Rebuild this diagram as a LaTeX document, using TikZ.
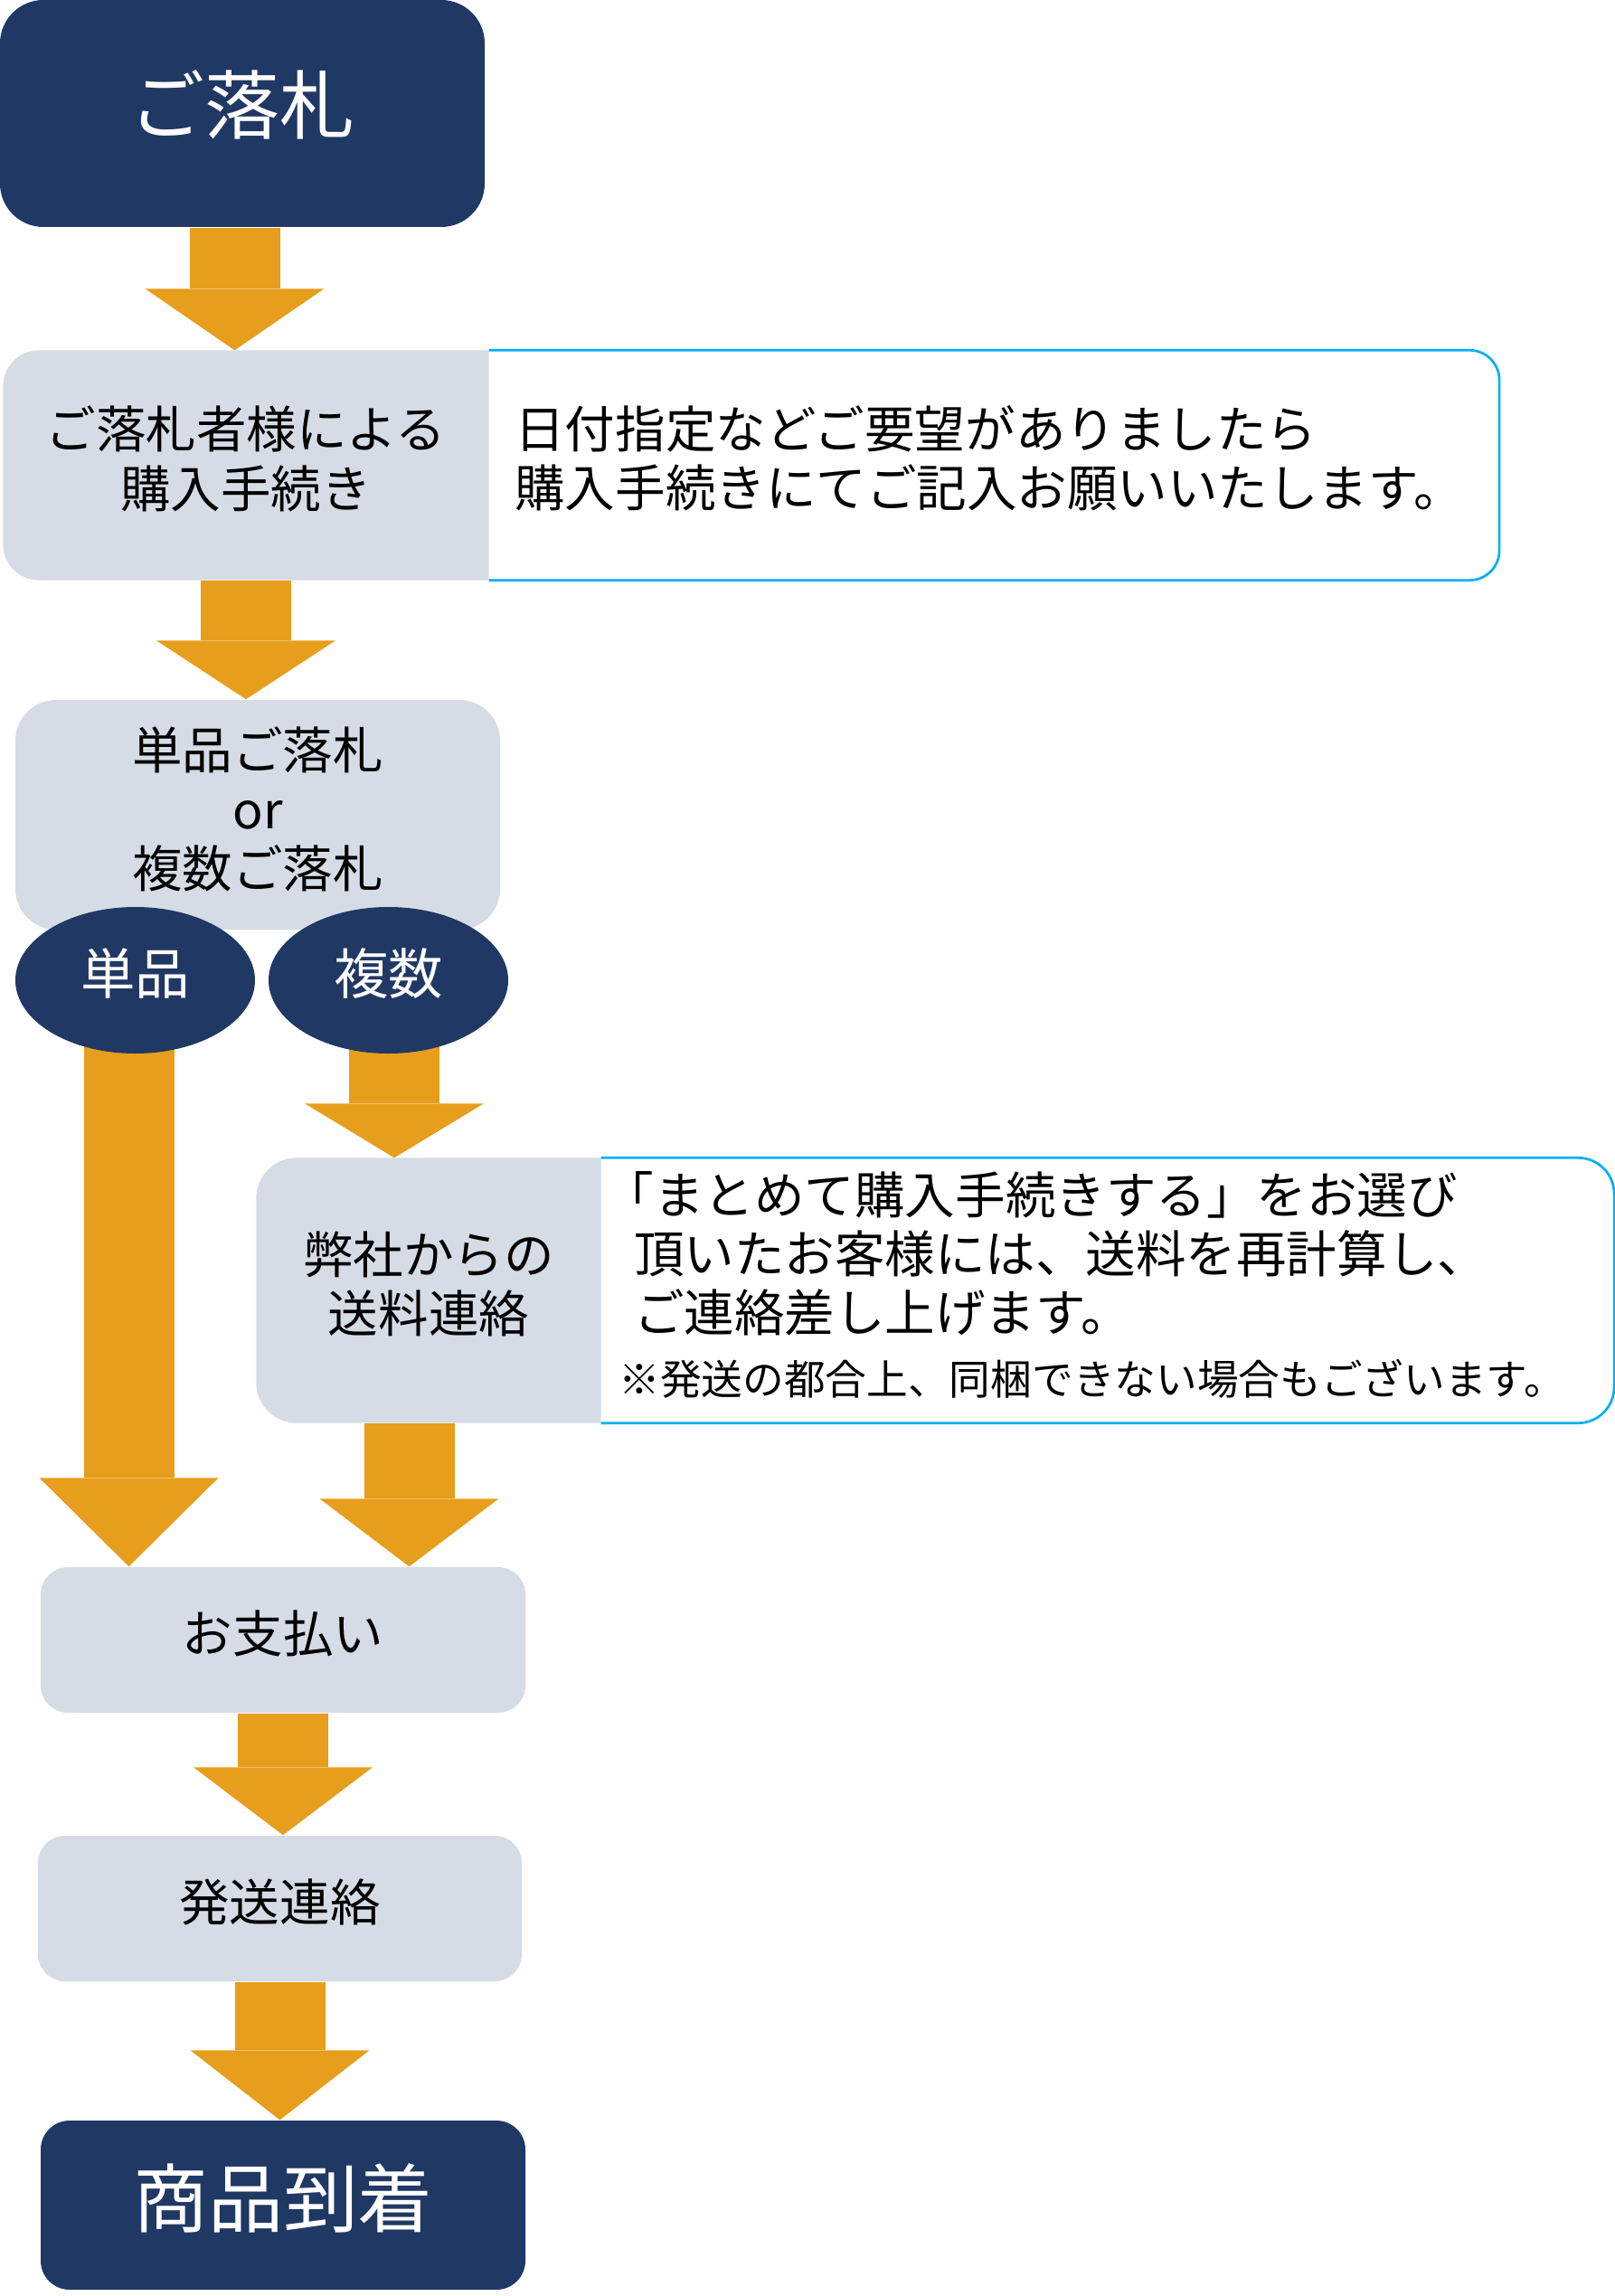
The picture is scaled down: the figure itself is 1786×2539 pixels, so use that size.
\documentclass[tikz,border=0pt]{standalone}
\usepackage{fontspec}
\setmainfont{Noto Sans CJK JP}
\usepackage{tikz}
\usetikzlibrary{arrows.meta,calc,backgrounds,shapes.geometric}
\definecolor{flownavy}{HTML}{203864}
\definecolor{flowgray}{HTML}{D6DCE5}
\definecolor{flowgold}{HTML}{E79E1C}
\definecolor{noteblue}{HTML}{00B0F0}

\begin{document}
\begin{tikzpicture}[x=0.1mm, y=-0.1mm,
  darkbox/.style={fill=flownavy, rounded corners=#1, inner sep=0pt},
  darkbox/.default=4.8mm,
  graybox/.style={fill=flowgray, rounded corners=#1, inner sep=0pt},
  graybox/.default=3mm,
  emptybox/.style={inner sep=0pt},
  titletext/.style={text=white, inner sep=0pt, font=\fontsize{23.6}{28}\selectfont},
  boxtext/.style={inner sep=0pt, align=center, font=\fontsize{15.8}{18.6}\selectfont},
  notetext/.style={anchor=west, inner sep=0pt, align=left, font=\fontsize{15.8}{18.6}\selectfont},
  noteline/.style={draw=noteblue, line width=0.27mm, rounded corners=#1},
  choiceoval/.style={ellipse, fill=flownavy, inner sep=0pt,
    minimum width=26.5mm, minimum height=16.2mm},
  ovaltext/.style={text=white, inner sep=0pt, font=\fontsize{17.2}{20}\selectfont},
  fatarrow/.style={draw=flowgold, line width=10mm,
    -{Triangle[length=#1, width=19.8mm, line width=0pt]}},
  fatarrow/.default=7.5mm]
  \useasboundingbox (0,0) rectangle (1786,2539);

  % ご落札
  \node[darkbox, minimum width=53.6mm, minimum height=25.1mm] (win) at (268,125.5) {};
  \node[titletext] (wintext) at ([yshift=1mm]win.center) {ご落札};

  % 購入手続き + 補足
  \node[emptybox, minimum width=53.6mm, minimum height=25.3mm] (buy) at (272,514.5) {};
  \node[boxtext] (buytext) at ([yshift=0.7mm]buy.center) {ご落札者様による\\購入手続き};
  \node[emptybox, anchor=west, minimum width=111.6mm, minimum height=25.3mm] (buynote) at (buy.east) {};
  \node[notetext] (buynotetext) at ([xshift=2.8mm, yshift=0.8mm]buynote.west)
    {日付指定などご要望がありましたら\\購入手続きにてご記入お願いいたします。};
  \begin{pgfonlayer}{background}
    \fill[flowgray, rounded corners=4mm] (buy.north east) -- (buy.north west)
      -- (buy.south west) -- (buy.south east);
  \end{pgfonlayer}
  \draw[noteline=3.3mm] (buynote.north west) -- (buynote.north east)
    -- (buynote.south east) -- (buynote.south west);

  % 単品 or 複数
  \node[graybox=4.5mm, minimum width=53.6mm, minimum height=25.4mm] (choice) at (285,901) {};
  \node[boxtext] (choicetext) at ([yshift=0.6mm]choice.center) {単品ご落札\\or\\複数ご落札};
  \node[choiceoval] (tanpin) at (149.5,1084) {};
  \node[ovaltext] (tanpintext) at ([yshift=0.7mm]tanpin.center) {単品};
  \node[choiceoval] (fukusu) at (429.5,1084) {};
  \node[ovaltext] (fukusutext) at ([yshift=0.7mm]fukusu.center) {複数};

  % 弊社からの送料連絡 + 補足
  \node[emptybox, minimum width=38mm, minimum height=29.2mm] (heisha) at (474,1427) {};
  \node[boxtext] (heishatext) at ([yshift=0.7mm]heisha.center) {弊社からの\\送料連絡};
  \node[emptybox, anchor=west, minimum width=111.9mm, minimum height=29.2mm] (heishanote) at (heisha.east) {};
  \node[notetext, text width=108.1mm] (heishanotetext) at ([xshift=1.9mm, yshift=0.6mm]heishanote.west)
    {\hspace*{-0.3em}「まとめて購入手続きする」をお選び\\
     \hspace*{0.3em}頂いたお客様には、送料を再計算し、\\
     \hspace*{0.3em}ご連絡差し上げます。\\[1.3pt]
     {\fontsize{13}{15}\selectfont ※発送の都合上、同梱できない場合もございます。}};
  \begin{pgfonlayer}{background}
    \fill[flowgray, rounded corners=4.5mm] (heisha.north east) -- (heisha.north west)
      -- (heisha.south west) -- (heisha.south east);
  \end{pgfonlayer}
  \draw[noteline=4mm] (heishanote.north west) -- (heishanote.north east)
    -- (heishanote.south east) -- (heishanote.south west);

  % お支払い, 発送連絡, 商品到着
  \node[graybox, minimum width=53.6mm, minimum height=16.1mm] (pay) at (313,1813.5) {};
  \node[boxtext] (paytext) at ([yshift=0.7mm]pay.center) {お支払い};
  \node[graybox, minimum width=53.5mm, minimum height=16.1mm] (ship) at (309.5,2110.5) {};
  \node[boxtext] (shiptext) at ([yshift=0.7mm]ship.center) {発送連絡};
  \node[darkbox=3.2mm, minimum width=53.6mm, minimum height=18.7mm] (arrive) at (313,2438.5) {};
  \node[titletext] (arrivetext) at ([yshift=0.8mm]arrive.center) {商品到着};

  % Arrows
  \draw[fatarrow=6.8mm] ($(win.south)+(-8.5,0)$) -- ($(win.south |- buy.north)+(-8.5,0)$);
  \draw[fatarrow=6.5mm] (buy.south) -- (buy.south |- choice.north);
  \begin{pgfonlayer}{background}
    \draw[fatarrow=9.8mm] ($(tanpin.center)+(-7,0)$) -- ($(tanpin.center |- pay.north)+(-7,0)$);
    \draw[fatarrow=6mm] ($(fukusu.center)+(6.5,0)$) -- ($(fukusu.center |- heisha.north)+(6.5,0)$);
  \end{pgfonlayer}
  \draw[fatarrow] ($(heisha.south)+(-21.5,0)$) -- ($(heisha.south |- pay.north)+(-21.5,0)$);
  \draw[fatarrow] (pay.south) -- (pay.south |- ship.north);
  \draw[fatarrow=7.7mm] (ship.south) -- (ship.south |- arrive.north);
\end{tikzpicture}
\end{document}
